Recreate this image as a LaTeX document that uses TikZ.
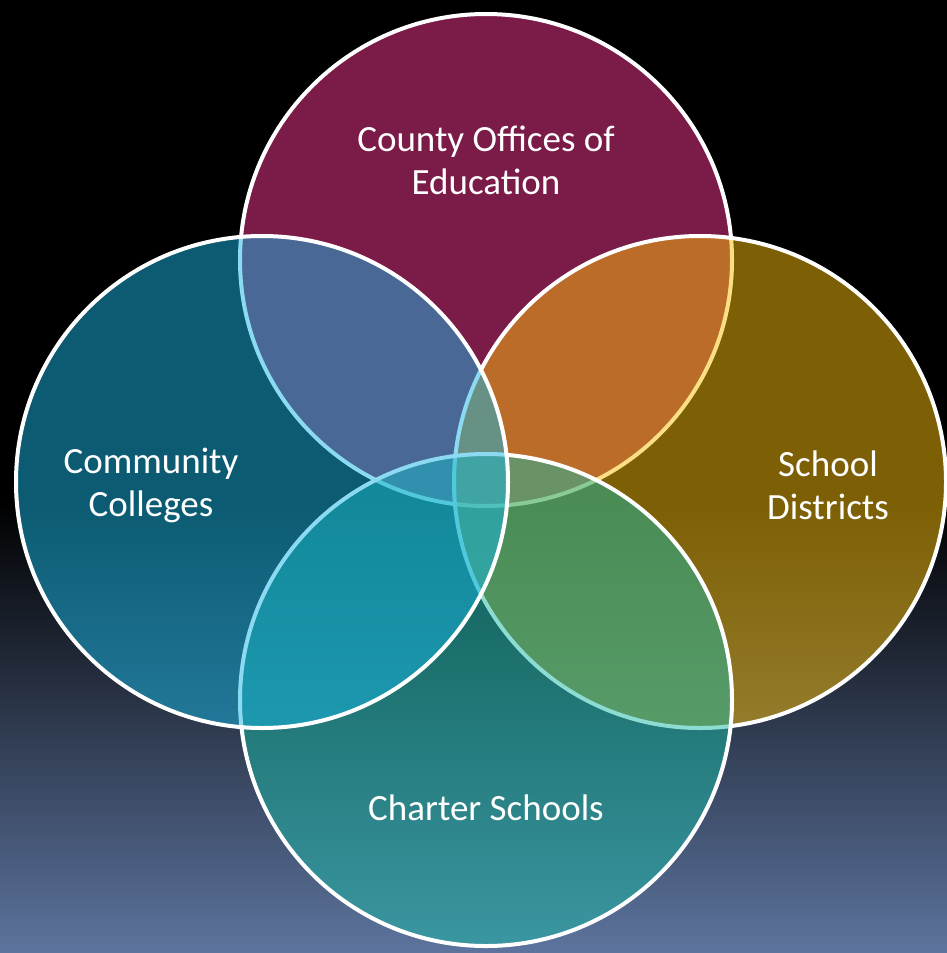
\documentclass[tikz,border=0pt]{standalone}
\usepackage{fontspec}
\setmainfont{Carlito}
\usetikzlibrary{positioning}

\definecolor{coefill}{RGB}{246,54,144}
\definecolor{sdfill}{RGB}{250,190,10}
\definecolor{csfill}{RGB}{26,186,166}
\definecolor{ccfill}{RGB}{24,182,228}
\definecolor{bgbottom}{RGB}{93,116,158}

\begin{document}
\begin{tikzpicture}[x=1pt,y=-1pt]
        \tikzstyle{set}=[circle,draw=white,line width=4pt,fill opacity=0.5,minimum size=492pt,inner sep=0pt]
        \tikzstyle{setname}=[text=white,align=center,font=\fontsize{37}{43}\selectfont]
       % backdrop
       \useasboundingbox (0,0) rectangle (947,953);
       \fill[black] (0,0) rectangle (947,953);
       \shade[top color=black,bottom color=bgbottom] (0,500) rectangle (947,953);
       \begin{scope}
         \node [set,fill=coefill] (coe) at (486,260) {};
         \node [set,fill=sdfill] (sd) at (700,482) {};
         \node [set,fill=csfill] (cs) at (486,700) {};
         \node [set,fill=ccfill] (cc) at (262,482) {};

         \node [setname] (coetext) at (486,160) {County Offices of\\Education};
         \node [setname] (cctext) at (151,485) {Community\\Colleges};
         \node [setname] (sdtext) at (828,485) {School\\Districts};
         \node [setname] (cstext) at (486,808) {Charter Schools};
        \end{scope}
      \end{tikzpicture}
\end{document}
